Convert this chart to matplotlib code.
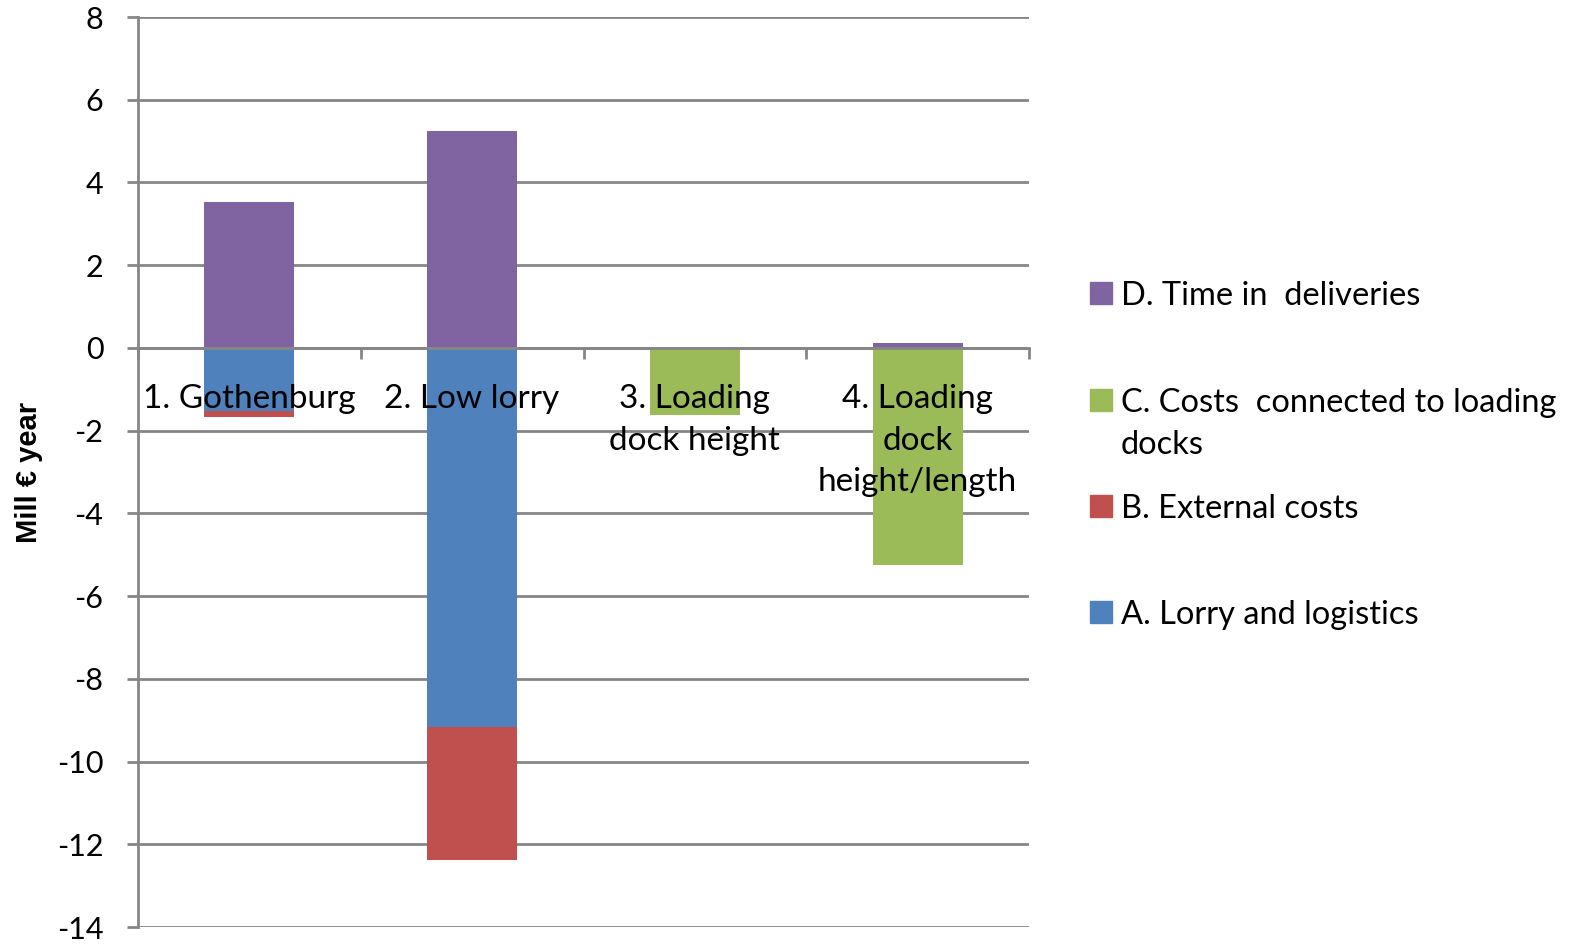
import matplotlib
matplotlib.use("Agg")
import matplotlib.pyplot as plt
from matplotlib.patches import Rectangle
import numpy as np

categories = ["1. Gothenburg", "2. Low lorry", "3. Loading\ndock height", "4. Loading\ndock\nheight/length"]
series_names = ["A. Lorry and logistics", "B. External costs",
                "C. Costs  connected to loading\ndocks", "D. Time in  deliveries"]
A = [-1.53, -9.16, 0.0, 0.0]
B = [-0.13, -3.22, 0.0, 0.0]
C = [0.0, 0.0, -1.63, -5.25]
D = [3.53, 5.25, 0.0, 0.12]
colors = ["#4F81BD", "#C0504D", "#9BBB59", "#8064A2"]
yticks = list(range(-14, 9, 2))

plt.rcParams['font.family'] = ['Lato', 'DejaVu Sans']
W, H = 1573, 947
fig = plt.figure(figsize=(W / 100, H / 100), dpi=100)
ax = fig.add_axes([138 / W, 1 - 927 / H, (1029 - 138) / W, (927 - 17) / H])

x = np.arange(len(categories))
pos_bottom = np.zeros(len(categories))
neg_bottom = np.zeros(len(categories))
for vals, col in zip([A, B, C, D], colors):
    v = np.array(vals)
    bottom = np.where(v >= 0, pos_bottom, neg_bottom)
    ax.bar(x, v, width=0.405, bottom=bottom, color=col, zorder=2)
    pos_bottom += np.where(v > 0, v, 0)
    neg_bottom += np.where(v < 0, v, 0)

ax.set_xlim(-0.5, len(categories) - 0.5)
ax.set_ylim(-14, 8)
ax.set_yticks(yticks)
ax.set_yticklabels([str(t) for t in yticks], fontsize=22)
ax.yaxis.grid(True, color="#868686", linewidth=2, zorder=0)
ax.set_axisbelow(True)
for s in ["top", "right"]:
    ax.spines[s].set_visible(False)
ax.spines["left"].set_color("#868686")
ax.spines["left"].set_linewidth(2)
ax.spines["bottom"].set_position(("data", 0))
ax.spines["bottom"].set_color("#868686")
ax.spines["bottom"].set_linewidth(2)
ax.spines["bottom"].set_zorder(3)
ax.tick_params(axis="y", length=8, width=2, color="#868686", pad=17)
ax.set_xticks(np.arange(-0.5, len(categories), 1.0))
ax.set_xticklabels([])
ax.tick_params(axis="x", length=8, width=2, color="#868686", direction="out")

for i, lab in enumerate(categories):
    ax.annotate(lab, xy=(i, 0), xytext=(0, -26), textcoords="offset points",
                ha="center", va="top", fontsize=24, linespacing=1.48, zorder=4)

ax.set_ylabel("Mill € year", fontsize=21, fontweight="bold",
              family=["Liberation Sans Narrow", "Liberation Sans", "DejaVu Sans"])
ax.yaxis.set_label_coords(-(138 - 43) / (1029 - 138), 0.5)

# legend (reverse order)
leg_y = [612, 506, 400, 293]
for name, col, yy in zip(series_names, colors, leg_y):
    fig.patches.append(Rectangle((1090 / W, 1 - (yy + 11) / H), 22 / W, 22 / H,
                                 transform=fig.transFigure, color=col))
    fig.text(1121 / W, 1 - (yy - 12) / H, name, ha="left", va="top",
             fontsize=23.5, linespacing=1.5)

fig.savefig("out.png", dpi=100)
